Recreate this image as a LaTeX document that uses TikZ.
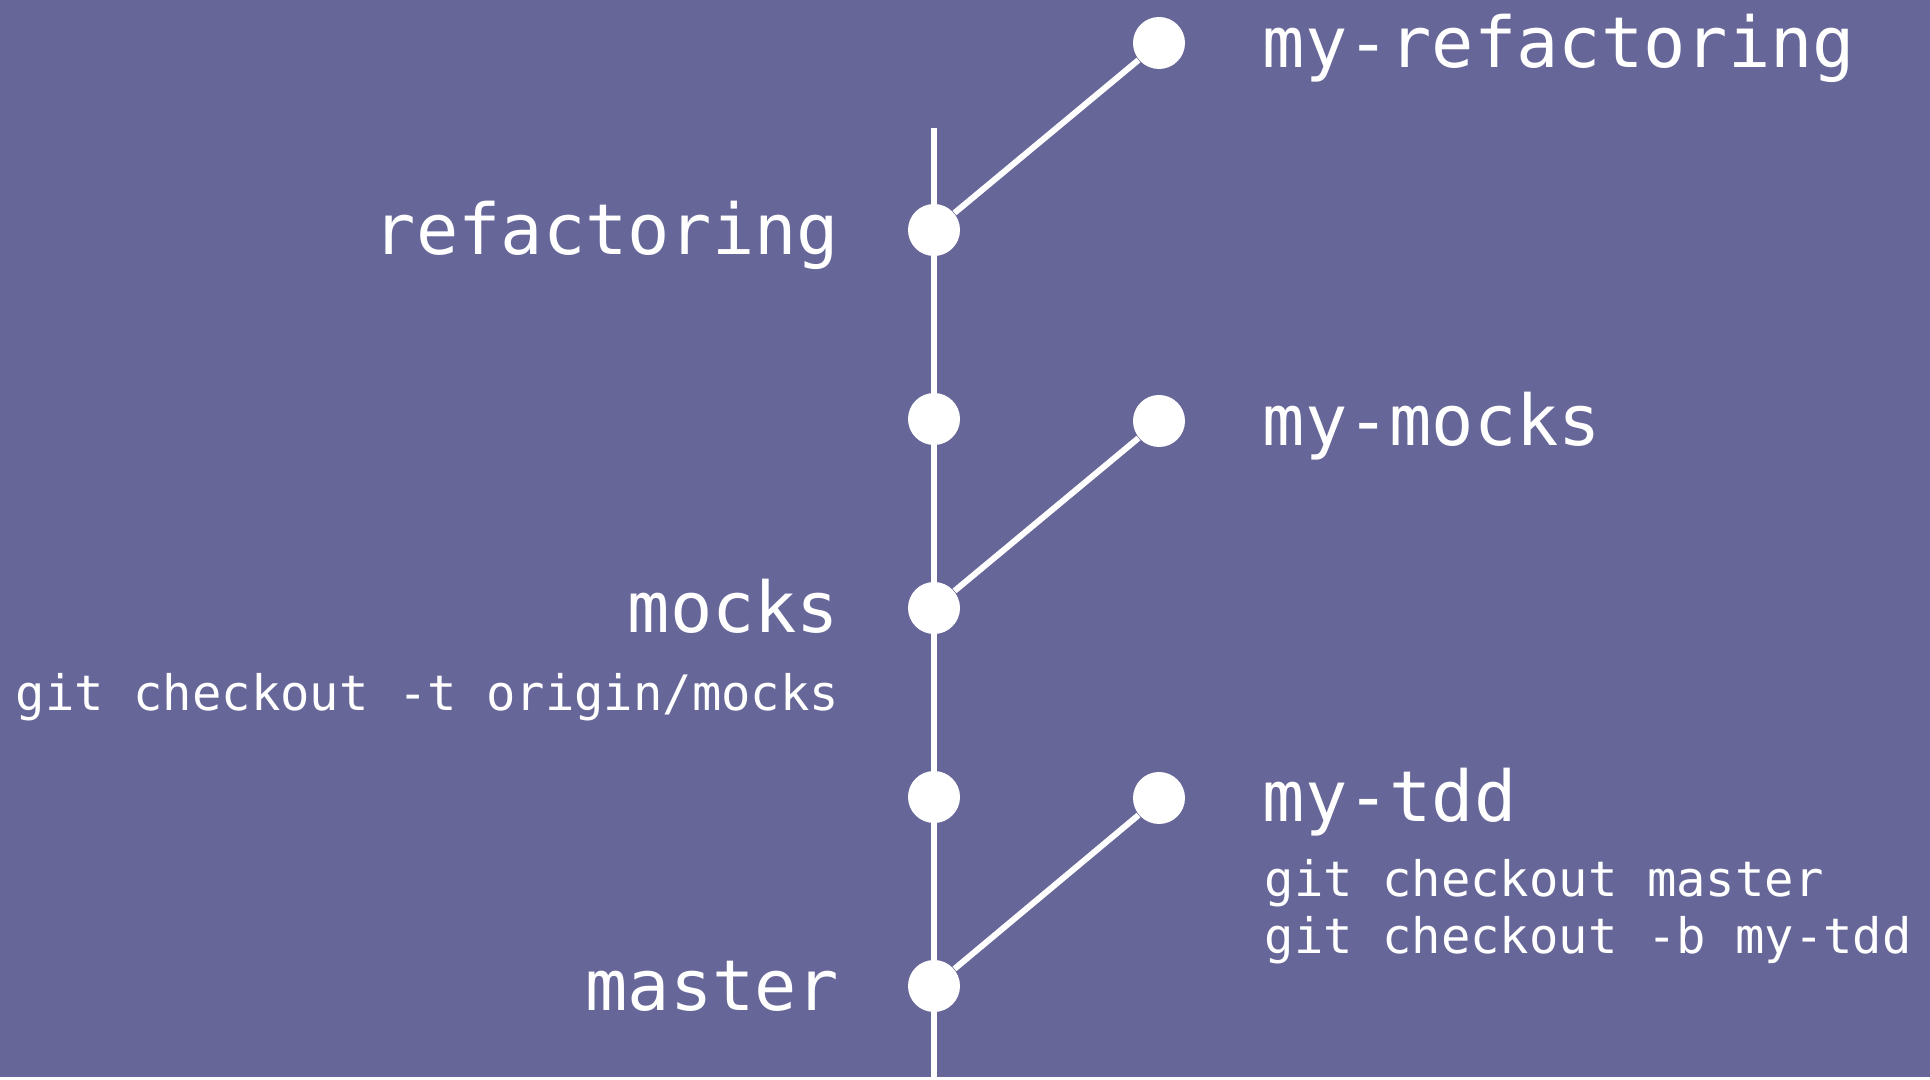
\documentclass[tikz,border=0pt]{standalone}
\usepackage{fontspec}
\setmonofont{DejaVu Sans Mono}
\definecolor{slate}{HTML}{666699}
\tikzset{
	commit/.style={circle, fill=white, inner sep=0pt, minimum size=0.52cm},
	branch/.style={draw=white, line width=0.06cm},
	biglabel/.style={text=white, inner sep=0pt, font=\ttfamily\fontsize{20}{24}\selectfont},
	cmdtext/.style={text=white, inner sep=0pt, font=\ttfamily\fontsize{13.9}{16}\selectfont}
}
\begin{document}
\begin{tikzpicture}
		\fill[slate] (0, 0) rectangle (19.30, -10.77);

		\coordinate (tip) at (9.34, -1.28);
		\coordinate (foot) at (9.34, -10.77);
		\draw[branch] (tip) -- (foot);

		\node[commit] (refactoring) at (9.34, -2.30) {};
		\node[commit] (mid1) at (9.34, -4.19) {};
		\node[commit] (mocks) at (9.34, -6.08) {};
		\node[commit] (mid2) at (9.34, -7.97) {};
		\node[commit] (master) at (9.34, -9.86) {};

		\node[commit] (myrefactoring) at (11.59, -0.43) {};
		\node[commit] (mymocks) at (11.59, -4.21) {};
		\node[commit] (mytdd) at (11.59, -7.98) {};

		\draw[branch] (refactoring) -- (myrefactoring);
		\draw[branch] (mocks) -- (mymocks);
		\draw[branch] (master) -- (mytdd);

		\node[biglabel, anchor=base east] (lrefactoring) at (8.40, -2.55) {refactoring};
		\node[biglabel, anchor=base east] (lmocks) at (8.40, -6.33) {mocks};
		\node[biglabel, anchor=base east] (lmaster) at (8.40, -10.11) {master};
		\node[cmdtext, anchor=base east] (cmdtrack) at (8.40, -7.11) {git checkout -t origin/mocks};

		\node[biglabel, anchor=base west] (lmyrefactoring) at (12.62, -0.68) {my-refactoring};
		\node[biglabel, anchor=base west] (lmymocks) at (12.62, -4.46) {my-mocks};
		\node[biglabel, anchor=base west] (lmytdd) at (12.62, -8.22) {my-tdd};
		\node[cmdtext, anchor=base west] (cmdmaster) at (12.64, -8.97) {git checkout master};
		\node[cmdtext, anchor=base west] (cmdbranch) at (12.64, -9.54) {git checkout -b my-tdd};
	\end{tikzpicture}
\end{document}
